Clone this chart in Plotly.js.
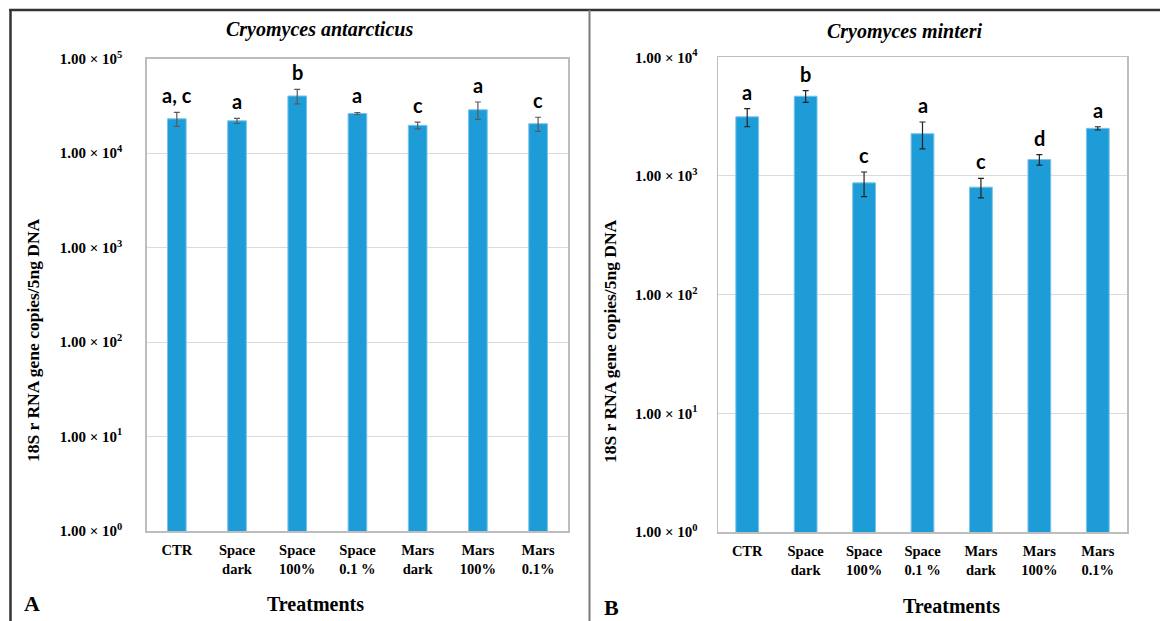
<!DOCTYPE html>
<html>
<head>
<meta charset="utf-8">
<script src="https://cdn.plot.ly/plotly-3.0.1.min.js"></script>
<style>html,body{margin:0;padding:0;background:#fff;}#chart{width:1160px;height:621px;}</style>
</head>
<body>
<div id="chart"></div>
<script>
const categories = ['CTR','Space dark','Space 100%','Space 0.1 %','Mars dark','Mars 100%','Mars 0.1%'];
const tickLabels = ['CTR','Space<br>dark','Space<br>100%','Space<br>0.1 %','Mars<br>dark','Mars<br>100%','Mars<br>0.1%'];

const antarcticusValues = [23100, 22000, 40300, 26300, 19700, 28800, 20500];
const antarcticusErrors = [3900, 1400, 7000, 650, 1650, 6000, 3500];
const antarcticusLetters = ['a, c','a','b','a','c','a','c'];

const minteriValues = [3150, 4700, 875, 2270, 805, 1375, 2520];
const minteriErrors = [550, 530, 205, 580, 150, 140, 80];
const minteriLetters = ['a','b','c','a','c','d','a'];

const yTickValsA = [1, 10, 100, 1000, 10000, 100000];
const yTickTextA = ['1.00 × 10<sup>0</sup>','1.00 × 10<sup>1</sup>','1.00 × 10<sup>2</sup>','1.00 × 10<sup>3</sup>','1.00 × 10<sup>4</sup>','1.00 × 10<sup>5</sup>'];
const yTickValsB = [1, 10, 100, 1000, 10000];
const yTickTextB = ['1.00 × 10<sup>0</sup>','1.00 × 10<sup>1</sup>','1.00 × 10<sup>2</sup>','1.00 × 10<sup>3</sup>','1.00 × 10<sup>4</sup>'];

const W = 1160, H = 621;
const px = v => v / W;
const py = v => 1 - v / H;

const barColor = '#1e9cd7';
const serif = 'Liberation Serif, Times New Roman, serif';

const traceA = {
  type: 'bar', x: categories, y: antarcticusValues, xaxis: 'x', yaxis: 'y', width: 0.31,
  marker: {color: barColor, line: {color: '#7cc3ea', width: 1}},
  error_y: {type: 'data', array: antarcticusErrors, visible: true, color: '#5a5a5a', thickness: 1.2, width: 3},
  hoverinfo: 'x+y'
};
const traceB = {
  type: 'bar', x: categories, y: minteriValues, xaxis: 'x2', yaxis: 'y2', width: 0.39,
  marker: {color: barColor, line: {color: '#7cc3ea', width: 1}},
  error_y: {type: 'data', array: minteriErrors, visible: true, color: '#222', thickness: 1.2, width: 3},
  hoverinfo: 'x+y'
};

const tickFont = {family: serif, size: 14.5, color: '#000'};
function xAxis(domain, anchor) {
  return {
    domain: domain, anchor: anchor, type: 'category',
    tickvals: categories, ticktext: tickLabels.map(t => '<b>' + t + '</b>'),
    tickfont: tickFont, showline: true, mirror: true, linecolor: '#bdbdbd', linewidth: 1.5,
    ticks: 'outside', ticklen: 5, tickcolor: 'rgba(0,0,0,0)', showgrid: false, zeroline: false, fixedrange: true
  };
}
function yAxis(domain, anchor, range, vals, text, standoff) {
  return {
    domain: domain, anchor: anchor, type: 'log', range: range,
    tickvals: vals, ticktext: text.map(t => '<b>' + t + '</b>'),
    tickfont: {family: serif, size: 15, color: '#000'}, showline: true, mirror: true, linecolor: '#bdbdbd', linewidth: 1.5,
    showgrid: true, gridcolor: '#dadada', gridwidth: 1,
    ticks: 'outside', ticklen: standoff, tickcolor: 'rgba(0,0,0,0)', zeroline: false, fixedrange: true
  };
}

const annotations = [];
function letterAnn(xref, yref, values, errors, letters) {
  categories.forEach((c, i) => {
    annotations.push({
      xref: xref, yref: yref, x: c, y: Math.log10(values[i] + errors[i]),
      text: '<b>' + letters[i] + '</b>', showarrow: false, yanchor: 'bottom', yshift: 3,
      font: {family: 'Lato, Open Sans, sans-serif', size: 20, color: '#000'}
    });
  });
}
letterAnn('x', 'y', antarcticusValues, antarcticusErrors, antarcticusLetters);
letterAnn('x2', 'y2', minteriValues, minteriErrors, minteriLetters);

function paperText(x, y, text, font, angle) {
  annotations.push({xref: 'paper', yref: 'paper', x: px(x), y: py(y), text: text, showarrow: false,
    xanchor: 'center', yanchor: 'middle', font: font, textangle: angle || 0});
}
paperText(319, 30, '<b><i>Cryomyces antarcticus</i></b>', {family: serif, size: 20, color: '#000'});
paperText(904, 31, '<b><i>Cryomyces minteri</i></b>', {family: serif, size: 20, color: '#000'});
paperText(33, 340, '<b>18S r RNA gene copies/5ng DNA</b>', {family: serif, size: 17.5, color: '#000'}, -90);
paperText(610, 341, '<b>18S r RNA gene copies/5ng DNA</b>', {family: serif, size: 17.5, color: '#000'}, -90);
paperText(315, 604, '<b>Treatments</b>', {family: serif, size: 20, color: '#000'});
paperText(951, 606, '<b>Treatments</b>', {family: serif, size: 20, color: '#000'});
paperText(32, 603, '<b>A</b>', {family: serif, size: 22, color: '#000'});
paperText(611, 607, '<b>B</b>', {family: serif, size: 22, color: '#000'});

const shapes = [
  {type: 'line', xref: 'paper', yref: 'paper', x0: px(10.5), x1: px(10.5), y0: py(9), y1: 0, line: {color: '#333', width: 2.5}},
  {type: 'line', xref: 'paper', yref: 'paper', x0: px(9.3), x1: 1, y0: py(10), y1: py(10), line: {color: '#333', width: 2.5}},
  {type: 'line', xref: 'paper', yref: 'paper', x0: px(589.5), x1: px(589.5), y0: py(10), y1: 0, line: {color: '#7a7a7a', width: 2}}
];

const layout = {
  width: W, height: H, margin: {l: 0, r: 0, t: 0, b: 0},
  paper_bgcolor: '#fff', plot_bgcolor: '#fff', showlegend: false,
  xaxis: xAxis([px(146.7), px(568.2)], 'y'),
  yaxis: yAxis([py(531), py(58.7)], 'x', [0, 5], yTickValsA, yTickTextA, 20),
  xaxis2: xAxis([px(718), px(1127)], 'y2'),
  yaxis2: yAxis([py(532), py(57.3)], 'x2', [0, 4], yTickValsB, yTickTextB, 16),
  annotations: annotations, shapes: shapes
};

Plotly.newPlot('chart', [traceA, traceB], layout, {displayModeBar: false, staticPlot: true});
</script>
</body>
</html>
